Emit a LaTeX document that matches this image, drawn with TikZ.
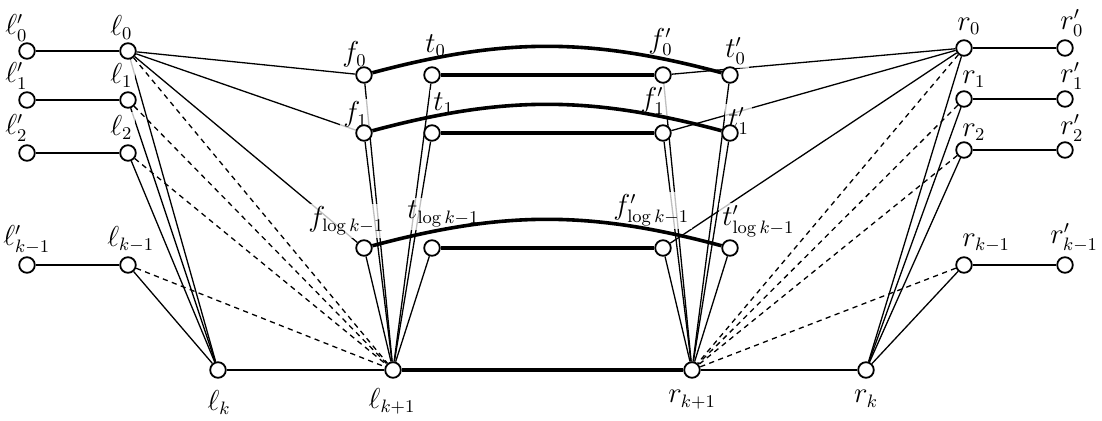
\documentclass[tikz,border=0pt]{standalone}
\pgfdeclarelayer{edges}
\pgfdeclarelayer{labels}
\pgfdeclarelayer{heavy}
\pgfsetlayers{edges,labels,heavy,main}
\begin{document}
\begin{tikzpicture}[x=0.5pt,y=0.5pt,font=\fontsize{13.5}{16}\selectfont,
  vtx/.style={circle,draw,fill=white,line width=0.9pt,minimum size=7.8pt,inner sep=0pt},
  edge/.style={line width=0.65pt},
  thk/.style={line width=1.8pt},
  dsh/.style={line width=0.65pt,dash pattern=on 2.6pt off 2.2pt},
  lbl/.style={inner sep=1.5pt,fill=white,fill opacity=0.75,text opacity=1,anchor=south west},
  lblb/.style={inner sep=1.5pt,fill=white,fill opacity=0.75,text opacity=1,anchor=north}]
\useasboundingbox (0,0) rectangle (1102,-421);
% vertices
\node[vtx] (lp0) at (27,-51) {};
\node[vtx] (lp1) at (27,-100) {};
\node[vtx] (lp2) at (27,-153) {};
\node[vtx] (lpk) at (27,-265) {};
\node[vtx] (l0) at (128,-51) {};
\node[vtx] (l1) at (128,-100) {};
\node[vtx] (l2) at (128,-153) {};
\node[vtx] (lk1) at (128,-265) {};
\node[vtx] (lk) at (218,-370) {};
\node[vtx] (lkk) at (393,-370) {};
\node[vtx] (f0) at (364,-75) {};
\node[vtx] (t0) at (432,-75) {};
\node[vtx] (fp0) at (663,-75) {};
\node[vtx] (tp0) at (730,-75) {};
\node[vtx] (f1) at (364,-133) {};
\node[vtx] (t1) at (432,-133) {};
\node[vtx] (fp1) at (663,-133) {};
\node[vtx] (tp1) at (730,-133) {};
\node[vtx] (fl) at (364,-248) {};
\node[vtx] (tl) at (432,-248) {};
\node[vtx] (fpl) at (663,-248) {};
\node[vtx] (tpl) at (730,-248) {};
\node[vtx] (rkk) at (692,-370) {};
\node[vtx] (rk) at (866,-370) {};
\node[vtx] (r0) at (964,-48) {};
\node[vtx] (r1) at (964,-99) {};
\node[vtx] (r2) at (964,-150) {};
\node[vtx] (rk1) at (964,-265) {};
\node[vtx] (rp0) at (1065,-48) {};
\node[vtx] (rp1) at (1065,-99) {};
\node[vtx] (rp2) at (1065,-150) {};
\node[vtx] (rpk) at (1065,-265) {};
% labels
\begin{pgfonlayer}{labels}
\node[lbl] (Llp0) at (2,-45) {$\ell'_0$};
\node[lbl] (Llp1) at (2,-93) {$\ell'_1$};
\node[lbl] (Llp2) at (2,-145) {$\ell'_2$};
\node[lbl] (Llpk) at (0,-258) {$\ell'_{k-1}$};
\node[lbl] (Ll0) at (107,-43) {$\ell_0$};
\node[lbl] (Ll1) at (107,-91) {$\ell_1$};
\node[lbl] (Ll2) at (107,-143) {$\ell_2$};
\node[lbl] (Llk1) at (104,-256) {$\ell_{k-1}$};
\node[lblb] (Llk) at (219,-387) {$\ell_k$};
\node[lblb] (Llkk) at (392,-385) {$\ell_{k+1}$};
\node[lbl] (Lf0) at (339,-71) {$f_0$};
\node[lbl] (Lf1) at (340,-131) {$f_1$};
\node[lbl] (Lt0) at (422,-60) {$t_0$};
\node[lbl] (Lt1) at (430,-118) {$t_1$};
\node[lbl] (Lfp0) at (645,-59) {$f'_0$};
\node[lbl] (Ltp0) at (722,-68) {$t'_0$};
\node[lbl] (Lfp1) at (637,-118) {$f'_1$};
\node[lbl] (Ltp1) at (725,-138) {$t'_1$};
\node[lbl] (Lfl) at (305,-238) {$f_{\log k-1}$};
\node[lbl] (Ltl) at (404,-230) {$t_{\log k-1}$};
\node[lbl] (Lfpl) at (610,-229) {$f'_{\log k-1}$};
\node[lbl] (Ltpl) at (719,-240) {$t'_{\log k-1}$};
\node[lbl] (Lr0) at (954,-38) {$r_0$};
\node[lbl] (Lrp0) at (1057,-40) {$r'_0$};
\node[lbl] (Lr1) at (959,-91) {$r_1$};
\node[lbl] (Lrp1) at (1057,-93) {$r'_1$};
\node[lbl] (Lr2) at (959,-144) {$r_2$};
\node[lbl] (Lrp2) at (1057,-145) {$r'_2$};
\node[lbl] (Lrk1) at (959,-256) {$r_{k-1}$};
\node[lbl] (Lrpk) at (1047,-256) {$r'_{k-1}$};
\node[lblb] (Lrkk) at (692,-387) {$r_{k+1}$};
\node[lblb] (Lrk) at (866,-387) {$r_k$};
\end{pgfonlayer}
% thin edges
\begin{pgfonlayer}{edges}
\draw[edge] (lp0) -- (l0);
\draw[edge] (lp1) -- (l1);
\draw[edge] (lp2) -- (l2);
\draw[edge] (lpk) -- (lk1);
\draw[edge] (l0) -- (f0);
\draw[edge] (l0) -- (f1);
\draw[edge] (l0) -- (fl);
\foreach \a in {l0,l1,l2,lk1} {
  \draw[edge] (\a) -- (lk);
  \draw[dsh] (\a) -- (lkk);
}
\draw[edge] (lk) -- (lkk);
\foreach \a in {f0,t0,f1,t1,fl,tl} \draw[edge] (\a) -- (lkk);
\foreach \a in {fp0,tp0,fp1,tp1,fpl,tpl} \draw[edge] (\a) -- (rkk);
\draw[edge] (fp0) -- (r0);
\draw[edge] (fp1) -- (r0);
\draw[edge] (fpl) -- (r0);
\foreach \a in {r0,r1,r2,rk1} {
  \draw[edge] (\a) -- (rk);
  \draw[dsh] (\a) -- (rkk);
}
\draw[edge] (rkk) -- (rk);
\draw[edge] (r0) -- (rp0);
\draw[edge] (r1) -- (rp1);
\draw[edge] (r2) -- (rp2);
\draw[edge] (rk1) -- (rpk);
\end{pgfonlayer}
% heavy edges
\begin{pgfonlayer}{heavy}
\draw[thk] (lkk) -- (rkk);
\draw[thk] (t0) -- (fp0);
\draw[thk] (t1) -- (fp1);
\draw[thk] (tl) -- (fpl);
\draw[thk] (f0) to[bend left=15] (tp0);
\draw[thk] (f1) to[bend left=15] (tp1);
\draw[thk] (fl) to[bend left=15] (tpl);
\end{pgfonlayer}
\end{tikzpicture}
\end{document}
